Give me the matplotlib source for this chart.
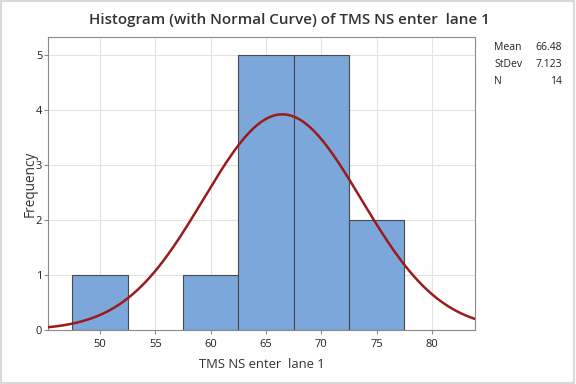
import numpy as np
import matplotlib
matplotlib.use("Agg")
import matplotlib.pyplot as plt
from matplotlib.patches import Rectangle

# histogram data
bin_left = [47.5, 57.5, 62.5, 67.5, 72.5]
counts = [1, 1, 5, 5, 2]
bin_width = 5.0
mean = 66.48
stdev = 7.123
n = 14

plt.rcParams['font.family'] = ['Open Sans', 'DejaVu Sans']

fig = plt.figure(figsize=(5.76, 3.84), dpi=100)
ax = fig.add_axes([0.083, 0.141, 0.742, 0.763])

ax.bar(bin_left, counts, width=bin_width, align='edge',
       color='#7BA7DA', edgecolor='#4a4a4a', linewidth=0.8, zorder=2)

# fitted normal curve scaled to counts
x = np.linspace(45.3, 83.9, 300)
y = n * bin_width / (stdev * np.sqrt(2 * np.pi)) * np.exp(-0.5 * ((x - mean) / stdev) ** 2)
ax.plot(x, y, color='#9B1B1B', lw=1.8, zorder=3)

ax.set_xlim(45.3, 83.9)
ax.set_ylim(0, 5.33)
ax.set_xticks([50, 55, 60, 65, 70, 75, 80])
ax.set_yticks([0, 1, 2, 3, 4, 5])
ax.grid(True, color='#e3e3e3', lw=0.8, zorder=0)
ax.set_axisbelow(True)
for s in ax.spines.values():
    s.set_color('#8a8a8a')
ax.tick_params(axis='both', labelsize=8, length=3, color='#8a8a8a', labelcolor='#222222')
ax.tick_params(axis='y', pad=1)

ax.set_xlabel('TMS NS enter  lane 1', fontsize=9.4, color='#333333', labelpad=6)
ax.set_ylabel('Frequency', fontsize=9.8, color='#333333', labelpad=-1)
fig.text(0.502, 0.947, 'Histogram (with Normal Curve) of TMS NS enter  lane 1',
         ha='center', va='center', fontsize=10.9, color='#333333', fontweight='semibold')

# stats box
for i, (lab, val) in enumerate([('Mean', '66.48'), ('StDev', '7.123'), ('N', '14')]):
    yy = 0.875 - i * 0.043
    fig.text(0.858, yy, lab, fontsize=7.5, color='#222222', va='center')
    fig.text(0.976, yy, val, fontsize=7.5, color='#222222', va='center', ha='right')

fig.patches.append(Rectangle((0.002, 0.003), 0.995, 0.994, transform=fig.transFigure,
                             fill=False, edgecolor='#d9d9d9', lw=1.5))

fig.savefig('out.png', dpi=100)
